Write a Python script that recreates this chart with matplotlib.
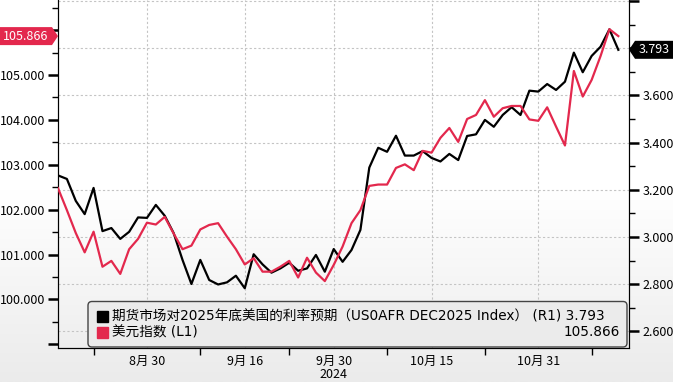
import numpy as np
import pandas as pd
import matplotlib
matplotlib.use('Agg')
import matplotlib.pyplot as plt
from matplotlib.patches import FancyBboxPatch, Rectangle, Polygon
from matplotlib.colors import LinearSegmentedColormap
from matplotlib.ticker import MultipleLocator, FixedLocator, FuncFormatter

plt.rcParams['font.family'] = ['Noto Sans CJK SC', 'DejaVu Sans']

# business days, 2024-08-16 .. 2024-11-13
dates = pd.bdate_range('2024-08-16', '2024-11-13')

# rate expectation for end-2025 (right axis)
rate = [3.261, 3.246, 3.153, 3.097, 3.208, 3.025, 3.038, 2.992, 3.022, 3.083,
        3.081, 3.136, 3.090, 3.017, 2.903, 2.801, 2.903, 2.818, 2.799, 2.808,
        2.836, 2.783, 2.927, 2.884, 2.849, 2.867, 2.891, 2.857, 2.867, 2.924,
        2.853, 2.949, 2.895, 2.945, 3.030, 3.294, 3.378, 3.361, 3.429, 3.345,
        3.345, 3.364, 3.335, 3.320, 3.352, 3.326, 3.428, 3.435, 3.496, 3.467,
        3.517, 3.550, 3.517, 3.620, 3.616, 3.648, 3.623, 3.658, 3.781, 3.698,
        3.767, 3.806, 3.880, 3.793]

# dollar index (left axis)
dxy = [102.48, 101.99, 101.48, 101.05, 101.51, 100.73, 100.86, 100.57, 101.12, 101.35,
       101.71, 101.67, 101.84, 101.47, 101.12, 101.20, 101.56, 101.66, 101.70, 101.40,
       101.12, 100.78, 100.92, 100.62, 100.62, 100.73, 100.86, 100.49, 100.93, 100.60,
       100.41, 100.77, 101.18, 101.70, 101.99, 102.53, 102.56, 102.56, 102.93, 103.01,
       102.88, 103.31, 103.27, 103.60, 103.82, 103.51, 104.02, 104.11, 104.44, 104.07,
       104.26, 104.31, 104.31, 104.01, 103.98, 104.28, 103.85, 103.43, 105.09, 104.52,
       104.89, 105.42, 106.02, 105.866]

label_dates = ['2024-08-30', '2024-09-16', '2024-09-30', '2024-10-15', '2024-10-31']
tick_dates = ['2024-08-22', '2024-09-09', '2024-09-23', '2024-10-08', '2024-10-23', '2024-11-08']

RED = '#e3284d'
W, H = 673, 382
LEG_FONT = ['DejaVu Sans', 'Noto Sans CJK SC']

x = np.arange(len(dates))
label_idx = [dates.get_loc(pd.Timestamp(d)) for d in label_dates]
tick_idx = [dates.get_loc(pd.Timestamp(d)) for d in tick_dates]
labels = [f'{pd.Timestamp(d).month}月 {pd.Timestamp(d).day}' for d in label_dates]

fig = plt.figure(figsize=(W / 100, H / 100), dpi=100)

# soft background gradient
bg = fig.add_axes([0, 0, 1, 1], zorder=-10)
cmap = LinearSegmentedColormap.from_list('bg', ['#ffffff', '#ffffff', '#ebebeb'])
bg.imshow(np.linspace(0, 1, 256).reshape(-1, 1), aspect='auto', cmap=cmap, extent=[0, 1, 0, 1])
bg.axis('off')

# right-scale axes (black), carries the grid
ax = fig.add_axes([58 / W, 1 - 347.5 / H, (629 - 58) / W, 347.5 / H])
ax_l = ax.twinx()
ax.patch.set_visible(False)

ax.plot(x, rate, color='black', lw=1.6, zorder=3)
ax.set_xlim(0, 64.2)
ax.set_ylim(2.532, 4.004)
ax.yaxis.tick_right()
ax.yaxis.set_major_locator(MultipleLocator(0.2))
ax.yaxis.set_minor_locator(MultipleLocator(0.1))
ax.yaxis.set_major_formatter(FuncFormatter(lambda v, _: f'{v:.3f}' if v < 3.7 else ''))
ax.tick_params(axis='y', which='major', length=7, width=1.8, pad=3, labelsize=9)
ax.tick_params(axis='y', which='minor', length=4, width=1)
ax.xaxis.set_major_locator(FixedLocator(label_idx))
ax.xaxis.set_minor_locator(FixedLocator(tick_idx))
ax.set_xticklabels(labels)
ax.tick_params(axis='x', which='major', length=0, pad=5, labelsize=9)
ax.tick_params(axis='x', which='minor', length=5, width=1)
ax.grid(True, which='major', color='#c4c4c4', ls=(0, (2, 2)), lw=0.8)
ax.spines['top'].set_visible(False)

# left-scale axes (red)
ax_l.plot(x, dxy, color=RED, lw=1.6, zorder=3)
ax_l.set_ylim(98.931, 106.670)
ax_l.yaxis.tick_left()
ax_l.yaxis.set_major_locator(MultipleLocator(1))
ax_l.yaxis.set_minor_locator(MultipleLocator(0.5))
ax_l.yaxis.set_major_formatter(FuncFormatter(lambda v, _: f'{v:.3f}' if 99.5 < v < 105.5 else ''))
ax_l.tick_params(axis='y', which='major', length=7, width=1.8, pad=2, labelsize=9)
ax_l.tick_params(axis='y', which='minor', length=4, width=1)
ax_l.spines['top'].set_visible(False)

fig.text(label_idx[2] * (629 - 58) / 64.2 / W + 58 / W, 1 - 375 / H, '2024',
         ha='center', va='center', fontsize=9)

# overlay in pixel coordinates for tags and legend
ov = fig.add_axes([0, 0, 1, 1], zorder=10)
ov.set_xlim(0, W)
ov.set_ylim(H, 0)
ov.axis('off')
ov.patch.set_visible(False)

py_r = H - ax.transData.transform((0, rate[-1]))[1]
py_l = H - ax_l.transData.transform((0, dxy[-1]))[1]

ov.add_patch(Polygon([(629, py_r), (635, py_r - 9), (673, py_r - 9), (673, py_r + 9), (635, py_r + 9)],
                     closed=True, color='black', lw=0))
ov.text(654, py_r, f'{rate[-1]:.3f}', color='white', ha='center', va='center', fontsize=9)
ov.add_patch(Polygon([(0, py_l - 9), (52, py_l - 9), (58, py_l), (52, py_l + 9), (0, py_l + 9)],
                     closed=True, color=RED, lw=0))
ov.text(26, py_l, f'{dxy[-1]:.3f}', color='white', ha='center', va='center', fontsize=9)

# legend
ov.add_patch(FancyBboxPatch((88, 301.5), 539, 45.5, boxstyle='round,pad=0,rounding_size=4',
                            facecolor='#ebebeb', edgecolor='#444444', lw=1))
ov.add_patch(Rectangle((97, 310.5), 11, 11, color='black'))
ov.add_patch(Rectangle((97, 327), 11, 11, color=RED))
ov.text(112, 316, f'期货市场对2025年底美国的利率预期（US0AFR DEC2025 Index） (R1) {rate[-1]:.3f}',
        va='center', ha='left', fontsize=9.8, family=LEG_FONT)
ov.text(112, 332.5, '美元指数 (L1)', va='center', ha='left', fontsize=9.8, family=LEG_FONT)
ov.text(620, 332.5, f'{dxy[-1]:.3f}', va='center', ha='right', fontsize=9.8, family=LEG_FONT)

fig.savefig('out.png', dpi=100)
